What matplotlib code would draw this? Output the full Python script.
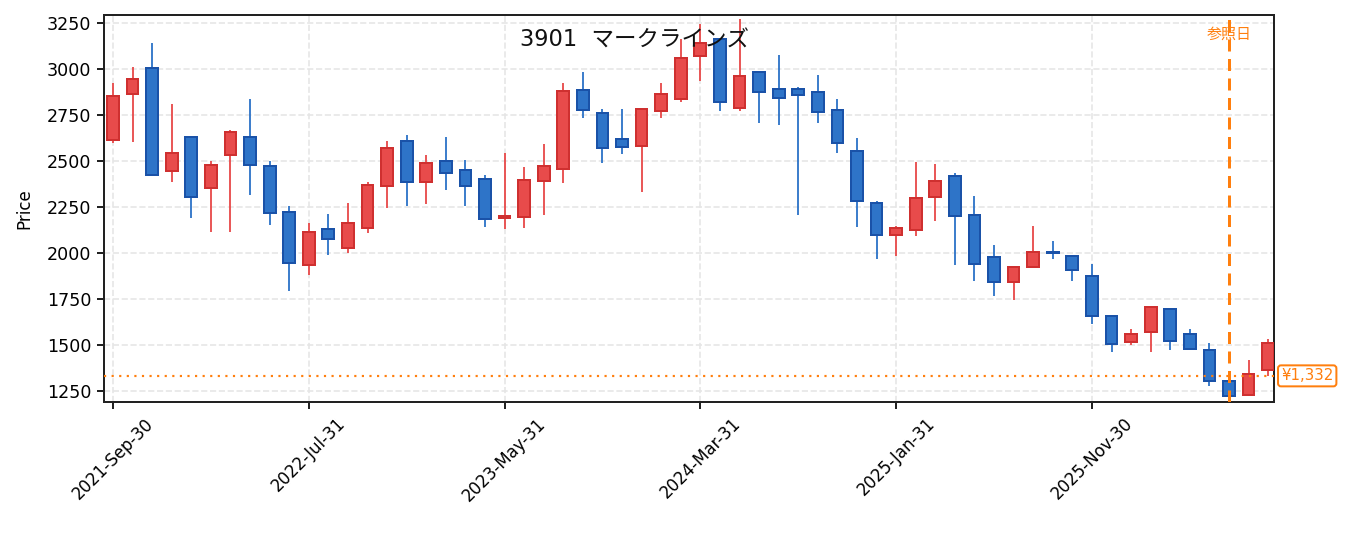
import numpy as np
import pandas as pd
import matplotlib
matplotlib.use('Agg')
import matplotlib.pyplot as plt
import matplotlib.transforms as mtransforms

plt.rcParams['font.family'] = ['DejaVu Sans', 'Noto Sans CJK JP']

# monthly candles, 2021-09 .. 2026-08
dates = pd.date_range('2021-09-30', periods=60, freq='ME')
opens = [2614, 2863, 3006, 2444, 2632, 2352, 2533, 2632, 2470, 2220,
         1935, 2128, 2029, 2137, 2365, 2610, 2386, 2497, 2448, 2399,
         2190, 2195, 2390, 2455, 2883, 2762, 2618, 2581, 2771, 2835,
         3069, 3163, 2786, 2984, 2892, 2892, 2872, 2778, 2556, 2269,
         2099, 2126, 2305, 2415, 2204, 1976, 1844, 1922, 2005, 1982,
         1873, 1658, 1516, 1570, 1694, 1561, 1474, 1304, 1226, 1364]
highs = [2923, 3010, 3140, 2807, 2632, 2500, 2668, 2836, 2500, 2256,
         2164, 2213, 2273, 2385, 2609, 2641, 2533, 2630, 2504, 2424,
         2542, 2468, 2592, 2923, 2983, 2780, 2780, 2786, 2923, 3160,
         3241, 3165, 3270, 2990, 3075, 2900, 2965, 2835, 2625, 2280,
         2144, 2495, 2484, 2433, 2310, 2045, 1925, 2148, 2067, 1985,
         1942, 1660, 1584, 1707, 1697, 1588, 1508, 1349, 1418, 1530]
lows = [2596, 2601, 2421, 2383, 2188, 2112, 2112, 2312, 2150, 1792,
        1879, 1987, 2000, 2106, 2242, 2253, 2263, 2339, 2253, 2139,
        2128, 2133, 2204, 2377, 2730, 2486, 2535, 2329, 2735, 2822,
        2936, 2768, 2768, 2703, 2697, 2204, 2703, 2545, 2139, 1967,
        1982, 2090, 2171, 1933, 1846, 1765, 1743, 1920, 1964, 1846,
        1615, 1463, 1500, 1463, 1472, 1470, 1277, 1220, 1224, 1331]
closes = [2854, 2946, 2421, 2545, 2305, 2475, 2654, 2479, 2215, 1947,
          2114, 2078, 2161, 2367, 2567, 2386, 2486, 2435, 2365, 2186,
          2200, 2394, 2471, 2878, 2777, 2571, 2576, 2780, 2865, 3060,
          3138, 2820, 2963, 2874, 2840, 2856, 2764, 2598, 2283, 2099,
          2137, 2296, 2388, 2202, 1942, 1844, 1922, 2003, 1998, 1909,
          1656, 1505, 1561, 1705, 1519, 1478, 1304, 1221, 1344, 1512]

title = '3901  マークラインズ'
ref_index = 57      # 参照日
ref_price = 1332

# colours
up_fill, up_edge = '#e84b4b', '#cf3030'
dn_fill, dn_edge = '#2e74c8', '#1a52a8'
ref_color = '#ff7f0e'

o = np.array(opens)
h = np.array(highs)
l = np.array(lows)
c = np.array(closes)
x = np.arange(len(dates))
up = c >= o

fig = plt.figure(figsize=(1355 / 120, 533 / 120), dpi=120)
ax = fig.add_axes([104 / 1355, 1 - 402 / 533, 1170 / 1355, 387 / 533])

# wicks
ax.vlines(x[up], l[up], h[up], color=up_fill, lw=1.1, zorder=2)
ax.vlines(x[~up], l[~up], h[~up], color=dn_fill, lw=1.1, zorder=2)

# bodies
body_h = np.maximum(np.abs(c - o), 4)
body_b = np.minimum(o, c)
ax.bar(x[up], body_h[up], bottom=body_b[up], width=0.6, color=up_fill,
       edgecolor=up_edge, linewidth=1.2, zorder=3)
ax.bar(x[~up], body_h[~up], bottom=body_b[~up], width=0.6, color=dn_fill,
       edgecolor=dn_edge, linewidth=1.2, zorder=3)

# reference markers
ax.axvline(ref_index, color=ref_color, ls=(0, (4, 2.5)), lw=1.8, zorder=4)
ax.axhline(ref_price, color=ref_color, ls=(0, (1, 2.5)), lw=1.3, zorder=4)
ax.text(ref_index, 0.951, '参照日', color=ref_color, fontsize=9,
        ha='center', va='center',
        transform=mtransforms.blended_transform_factory(ax.transData, ax.transAxes))
ax.text(1.006, ref_price, f'¥{ref_price:,}', color=ref_color, fontsize=9,
        ha='left', va='center',
        transform=mtransforms.blended_transform_factory(ax.transAxes, ax.transData),
        bbox=dict(boxstyle='round,pad=0.2', fc='white', ec=ref_color, lw=1.2),
        clip_on=False)

ax.text(0.453, 0.935, title, transform=ax.transAxes, fontsize=13.5,
        ha='center', va='center', color='#111111')

ax.set_xlim(-0.46, 59.3)
ax.set_ylim(1190, 3292)
ax.set_yticks(np.arange(1250, 3251, 250))
ticks = x[::10]
ax.set_xticks(ticks)
ax.set_xticklabels([dates[i].strftime('%Y-%b-%d') for i in ticks],
                   rotation=45, ha='center')
ax.tick_params(labelsize=10, length=4, width=1.2, color='#222222')
ax.tick_params(axis='y', labelsize=10.5)
ax.set_ylabel('Price', fontsize=10, labelpad=8)

ax.grid(True, ls='--', color='#e6e6e6', lw=1.0, zorder=0)
ax.set_axisbelow(True)
for sp in ax.spines.values():
    sp.set_color('#222222')
    sp.set_linewidth(1.2)

fig.savefig('out.png', dpi=120)
